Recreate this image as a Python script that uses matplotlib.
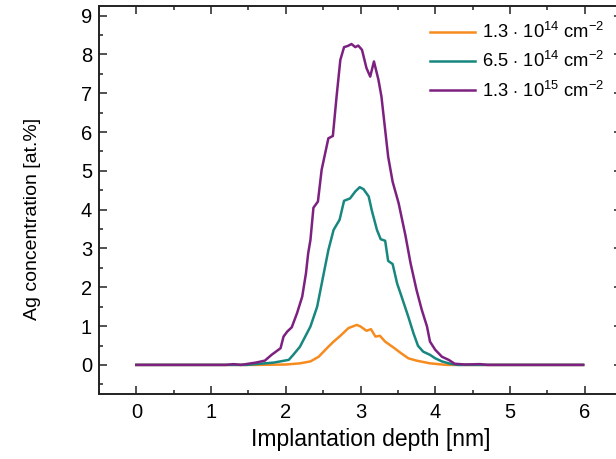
import matplotlib
matplotlib.use("Agg")
import matplotlib.pyplot as plt
from matplotlib.ticker import MultipleLocator

plt.rcParams['font.family'] = ['Liberation Sans', 'DejaVu Sans']
plt.rcParams['mathtext.fontset'] = 'custom'
plt.rcParams['mathtext.rm'] = 'Liberation Sans'
plt.rcParams['mathtext.it'] = 'Liberation Sans'
plt.rcParams['mathtext.bf'] = 'Liberation Sans:bold'

# dose 1.3e14
x_low = [0, 1.6, 2.0, 2.19, 2.33, 2.44, 2.55, 2.64, 2.73, 2.84, 2.95, 3.0, 3.08,
         3.14, 3.2, 3.26, 3.33, 3.44, 3.53, 3.64, 3.75, 3.93, 4.15, 5.98]
y_low = [0, 0, 0.01, 0.04, 0.09, 0.21, 0.43, 0.60, 0.75, 0.95, 1.03, 0.99, 0.88,
         0.92, 0.73, 0.75, 0.60, 0.45, 0.32, 0.17, 0.11, 0.04, 0, 0]

# dose 6.5e14
x_mid = [0, 1.48, 1.84, 2.04, 2.10, 2.19, 2.33, 2.42, 2.50, 2.57, 2.64, 2.72, 2.78,
         2.86, 2.93, 2.99, 3.04, 3.11, 3.15, 3.22, 3.27, 3.33, 3.37, 3.43, 3.49,
         3.55, 3.64, 3.71, 3.77, 3.84, 3.93, 4.00, 4.09, 4.20, 4.3, 5.98]
y_mid = [0, 0, 0.06, 0.13, 0.26, 0.47, 0.99, 1.50, 2.28, 2.96, 3.48, 3.74, 4.23,
         4.29, 4.47, 4.58, 4.53, 4.34, 3.99, 3.48, 3.24, 3.20, 2.68, 2.60, 2.10,
         1.76, 1.24, 0.81, 0.49, 0.34, 0.26, 0.17, 0.09, 0.03, 0, 0]

# dose 1.3e15
x_high = [0, 1.2, 1.3, 1.4, 1.5, 1.6, 1.72, 1.81, 1.93, 1.97, 2.02, 2.08, 2.15,
          2.22, 2.27, 2.30, 2.33, 2.37, 2.43, 2.48, 2.57, 2.63, 2.68, 2.73, 2.78,
          2.83, 2.88, 2.93, 2.97, 3.02, 3.08, 3.13, 3.18, 3.24, 3.28, 3.33, 3.37,
          3.43, 3.51, 3.60, 3.67, 3.75, 3.82, 3.89, 3.93, 4.00, 4.09, 4.18, 4.26,
          4.4, 4.6, 4.7, 5.98]
y_high = [0, 0, 0.02, 0, 0.03, 0.06, 0.11, 0.26, 0.43, 0.73, 0.86, 0.97, 1.33,
          1.76, 2.36, 2.88, 3.22, 4.05, 4.21, 5.03, 5.84, 5.90, 6.92, 7.86, 8.19,
          8.22, 8.27, 8.19, 8.23, 8.12, 7.65, 7.43, 7.82, 7.35, 6.92, 6.06, 5.37,
          4.72, 4.17, 3.35, 2.62, 1.93, 1.42, 0.99, 0.60, 0.39, 0.21, 0.13, 0.03,
          0.01, 0.02, 0, 0]

labels = [r"1.3 $\cdot$ 10$^{14}$ cm$^{-2}$",
          r"6.5 $\cdot$ 10$^{14}$ cm$^{-2}$",
          r"1.3 $\cdot$ 10$^{15}$ cm$^{-2}$"]
colors = ['#F68B1F', '#17877F', '#7D2181']

fig = plt.figure(figsize=(6.16, 4.59), dpi=100)
ax = fig.add_axes([99/616, 1 - 394/459, 523/616, 388/459])

ax.plot(x_low, y_low, color=colors[0], lw=1.8, label=labels[0])
ax.plot(x_mid, y_mid, color=colors[1], lw=1.8, label=labels[1])
ax.plot(x_high, y_high, color=colors[2], lw=1.8, label=labels[2])

ax.set_xlim(-0.5, 6.5)
ax.set_ylim(-0.75, 9.25)
ax.xaxis.set_major_locator(MultipleLocator(1))
ax.xaxis.set_minor_locator(MultipleLocator(0.5))
ax.yaxis.set_major_locator(MultipleLocator(1))
ax.yaxis.set_minor_locator(MultipleLocator(0.5))
ax.tick_params(which='both', direction='in', top=True, right=True,
               labelsize=14.5, width=1.1, colors='#222222', labelcolor='black')
ax.tick_params(which='major', length=6)
ax.tick_params(axis='x', which='major', pad=6.5)
ax.tick_params(axis='y', which='major', pad=5)
ax.tick_params(which='minor', length=3)
for s in ax.spines.values():
    s.set_linewidth(1.4)
    s.set_color('#222222')

ax.set_xlabel('Implantation depth [nm]', fontsize=16.5)
ax.set_ylabel('Ag concentration [at.%]', fontsize=14)
ax.xaxis.set_label_coords(0.52, -0.088)
ax.yaxis.set_label_coords(-0.11, 0.452)

ax.legend(loc='upper left', bbox_to_anchor=(430/616, 1 - 22/459),
          bbox_transform=fig.transFigure, frameon=False, fontsize=13.2,
          handlelength=2.45, handletextpad=0.4, borderpad=0, borderaxespad=0,
          labelspacing=0.5)

fig.savefig('out.png', dpi=100)
